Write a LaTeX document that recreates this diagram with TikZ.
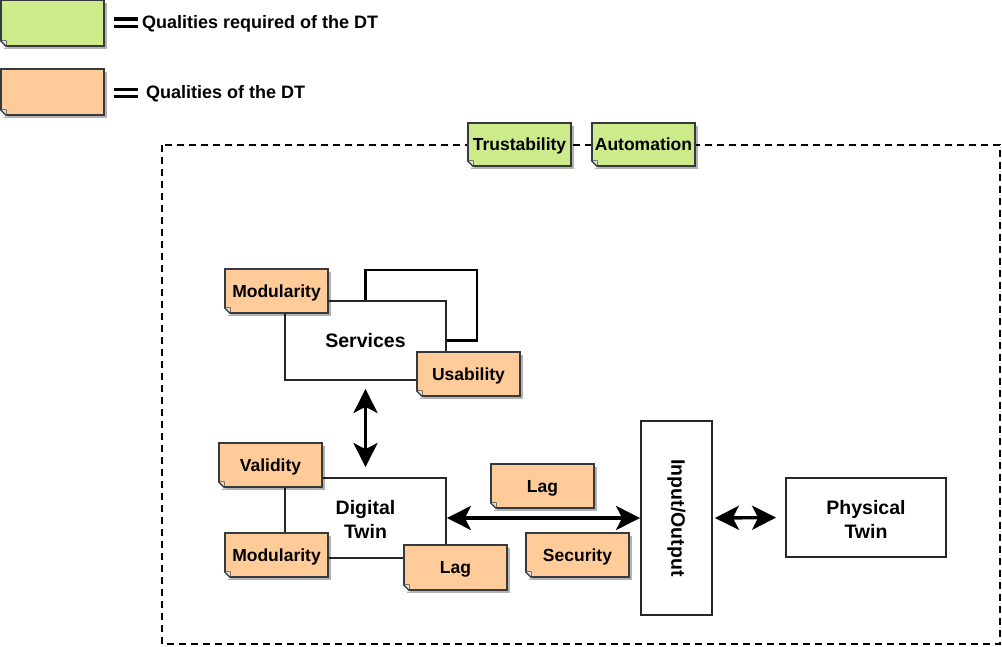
\documentclass[tikz,border=0pt]{standalone}
\usepackage{fontspec}
\setmainfont{Liberation Sans}
\usetikzlibrary{shadows,arrows.meta}
\definecolor{noteorange}{HTML}{FFCC99}
\definecolor{notegreen}{HTML}{CDEB8B}
\definecolor{noteedge}{HTML}{36393D}
\begin{document}
\begin{tikzpicture}[x=1pt,y=-1pt,
  note/.style={rectangle, draw=noteedge, line width=1.2pt, minimum width=103pt, minimum height=44pt,
    inner sep=0pt, font=\fontsize{17.5}{20}\selectfont\bfseries, text height=12.6pt, text depth=0pt,
    drop shadow={shadow xshift=3pt, shadow yshift=-3pt, fill=black, opacity=0.3}},
  onote/.style={note, fill=noteorange},
  gnote/.style={note, fill=notegreen},
  box/.style={rectangle, draw=black!85, line width=1.8pt, fill=white, inner sep=0pt},
  boxlabel/.style={inner sep=0pt, align=center, font=\fontsize{19.5}{24}\selectfont\bfseries},
  legtext/.style={anchor=west, inner sep=0pt, text height=12.9pt, text depth=0pt,
    font=\fontsize{18}{21}\selectfont\bfseries},
  tip/.tip={Stealth[length=24pt,width=24pt,inset=6pt]},
  arr/.style={line width=3.4pt, tip-tip},
  eqline/.style={line width=3.3pt},
  container/.style={draw=black, line width=1.5pt, dash pattern=on 7pt off 5pt}
]
\useasboundingbox (0,0) rectangle (1002,647);

% legend
\node[gnote, minimum height=46pt] (lg) at (52.5,23) {};
\node[onote, minimum height=46pt] (lo) at (52.5,92) {};
\draw[eqline] ([xshift=9pt,yshift=4pt]lg.east) -- ++(24,0);
\draw[eqline] ([xshift=9pt,yshift=-3.3pt]lg.east) -- ++(24,0);
\draw[eqline] ([xshift=9pt,yshift=2.5pt]lo.east) -- ++(24,0);
\draw[eqline] ([xshift=9pt,yshift=-4.5pt]lo.east) -- ++(24,0);
\node[legtext] (lgt) at (142,22) {Qualities required of the DT};
\node[legtext] (lot) at (146,92) {Qualities of the DT};

% container
\draw[container] (162,145) rectangle (1000,644);

% boxes
\node[box, minimum width=161pt, minimum height=79pt] (srv) at (365.5,340.5) {};
\node[boxlabel, text height=14pt, text depth=0pt] (srvl) at (srv.center) {Services};
\draw[line width=2.6pt] (srv.north) |- (477,270) |- (srv.east);
\node[box, minimum width=161pt, minimum height=80pt] (dt) at (365.5,518) {};
\node[boxlabel] (dtl) at ([yshift=-1pt]dt.center) {Digital\\Twin};
\node[box, minimum width=71pt, minimum height=194pt] (io) at (676.5,518) {};
\node[boxlabel, rotate=-90] (iot) at (io.center) {Input/Output};
\node[box, minimum width=160pt, minimum height=79pt] (pt) at (866,517.5) {};
\node[boxlabel] (ptl) at ([yshift=-1.5pt]pt.center) {Physical\\Twin};

% arrows
\draw[arr, shorten <=8pt, shorten >=10pt] (srv.south) -- (dt.north);
\draw[arr] (dt.east) -- (io.west);
\draw[arr, shorten <=2pt, shorten >=9pt] (io.east) -- (pt.west);

% notes
\node[gnote, minimum height=43pt] (tr) at (519.5,144.5) {Trustability};
\node[gnote, minimum height=43pt] (au) at (643.5,144.5) {Automation};
\node[onote] (mod1) at (276.5,291) {Modularity};
\node[onote] (usa) at (468.5,374) {Usability};
\node[onote] (val) at (270.5,465) {Validity};
\node[onote] (mod2) at (276.5,555) {Modularity};
\node[onote, minimum height=45pt] (lag1) at (455.5,567.5) {Lag};
\node[onote] (lag2) at (542.5,486) {Lag};
\node[onote] (sec) at (577.5,555) {Security};

% folded corners
\foreach \n in {lg,lo,tr,au,mod1,usa,val,mod2,lag1,lag2,sec}{
  \fill[white] ([xshift=-1pt,yshift=-1pt]\n.south west) -- ++(8,0) -- ++(-8,-8) -- cycle;
  \filldraw[fill=black!12, draw=noteedge, line width=0.6pt] ([yshift=6pt]\n.south west) -- ++(6,0) -- ++(0,6) -- cycle;
  \draw[noteedge, line width=1.2pt] ([yshift=6pt]\n.south west) -- ++(6,6);
}
\end{tikzpicture}
\end{document}
